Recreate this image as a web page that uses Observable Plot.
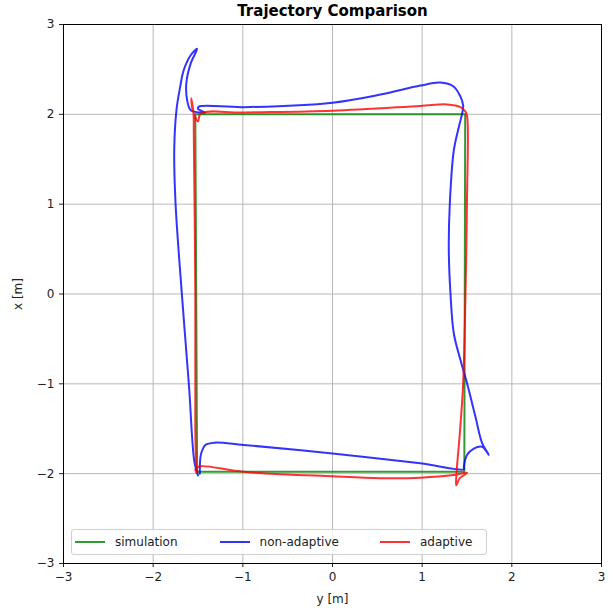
<!DOCTYPE html>
<html>
<head>
<meta charset="utf-8">
<script src="https://cdn.jsdelivr.net/npm/d3@7"></script>
<script src="https://cdn.jsdelivr.net/npm/@observablehq/plot@0.6"></script>
<style>
  body { margin: 0; background: #fff; font-family: "DejaVu Sans", sans-serif; }
  #wrap { position: relative; width: 613px; height: 608px; }
  #legend { position: absolute; left: 71px; top: 529px; width: 416px; height: 26px;
    border: 1px solid #d0d0d0; border-radius: 3px; background: rgba(255,255,255,0.85);
    display: flex; align-items: center; font-size: 12px; color: #222; box-sizing: border-box; }
  .item { display: flex; align-items: center; margin-left: 4px; }
  .sw { width: 30px; height: 0; border-top: 2px solid; margin-right: 10px; }
</style>
</head>
<body>
<div id="wrap"><div id="legend"></div></div>
<script>
const titleText = "Trajectory Comparison";
const xLabel = "y [m]";
const yLabel = "x [m]";
const ticks = [-3, -2, -1, 0, 1, 2, 3];
const seriesNames = ["simulation", "non-adaptive", "adaptive"];
const seriesColors = ["#008000", "#0000ff", "#ff0000"];

// horizontal = y [m], vertical = x [m]
const simY = [-1.51, -1.53, 1.48, 1.47, -1.51];
const simX = [-1.98, 2.0, 2.0, -1.98, -1.98];

const nonAdaptiveY = [-1.50, -1.54, -1.60, -1.68, -1.75, -1.765, -1.74, -1.70, -1.66, -1.58, -1.51,
  -1.58, -1.63, -1.62, -1.585, -1.545, -1.42, -1.50, -1.49,
  -0.99, 0.0, 0.535, 0.98, 1.20, 1.35, 1.427, 1.457, 1.446, 1.409, 1.353, 1.308, 1.297, 1.316,
  1.353, 1.427, 1.502, 1.595, 1.669, 1.743, 1.669, 1.576, 1.502, 1.465, 1.465,
  0.98, 0.0, -0.99, -1.32, -1.416, -1.453, -1.472, -1.48];
const nonAdaptiveX = [-2.02, -1.87, -1.03, 0.0, 1.0, 1.60, 2.05, 2.30, 2.49, 2.66, 2.73,
  2.57, 2.35, 2.15, 2.05, 2.03, 2.02, 2.06, 2.085,
  2.08, 2.13, 2.22, 2.32, 2.353, 2.31, 2.197, 2.10, 2.01, 1.86, 1.60, 1.0, 0.49, 0.0,
  -0.44, -0.735, -1.0, -1.37, -1.66, -1.79, -1.70, -1.72, -1.79, -1.92, -1.95,
  -1.885, -1.775, -1.68, -1.655, -1.68, -1.74, -1.81, -2.0];

const adaptiveY = [-1.52, -1.53, -1.53, -1.547, -1.55, -1.575, -1.56, -1.50, -1.47,
  -0.99, 0.0, 0.98, 1.28, 1.427, 1.483, 1.502, 1.50, 1.483, 1.457, 1.42, 1.383, 1.38, 1.42, 1.50,
  1.353, 0.98, 0.535, 0.0, -0.99, -1.49, -1.53];
const adaptiveX = [-1.99, -1.5, 0.0, 1.79, 2.01, 2.18, 2.05, 1.92, 2.01,
  2.02, 2.04, 2.094, 2.11, 2.08, 2.03, 1.975, 1.05, 0.0, -1.0, -1.55, -2.0, -2.13, -2.05, -1.99,
  -2.016, -2.045, -2.05, -2.03, -1.98, -1.92, -1.96];

const toRows = (ys, xs) => ys.map((v, i) => ({h: v, v: xs[i]}));
const sim = toRows(simY, simX);
const nonAd = toRows(nonAdaptiveY, nonAdaptiveX);
const ad = toRows(adaptiveY, adaptiveX);
const fmt = d => (d < 0 ? "\u2212" + Math.abs(d) : String(d));

const chart = Plot.plot({
  width: 613,
  height: 608,
  marginLeft: 63,
  marginRight: 12,
  marginTop: 24,
  marginBottom: 45,
  style: {fontFamily: "DejaVu Sans, sans-serif", fontSize: "12px", color: "#222", background: "#fff"},
  x: {domain: [-3, 3], ticks: ticks, tickFormat: fmt, tickSize: 4, label: xLabel, labelAnchor: "center", labelOffset: 39, labelArrow: "none"},
  y: {domain: [-3, 3], ticks: ticks, tickFormat: fmt, tickSize: 4, label: yLabel, labelAnchor: "center", labelOffset: 50, labelArrow: "none"},
  marks: [
    Plot.gridX(ticks, {stroke: "#b0b0b0", strokeOpacity: 1, strokeWidth: 0.9}),
    Plot.gridY(ticks, {stroke: "#b0b0b0", strokeOpacity: 1, strokeWidth: 0.9}),
    Plot.line(sim, {x: "h", y: "v", stroke: seriesColors[0], strokeWidth: 2, strokeOpacity: 0.8}),
    Plot.line(nonAd, {x: "h", y: "v", stroke: seriesColors[1], strokeWidth: 2, strokeOpacity: 0.8, curve: "catmull-rom"}),
    Plot.line(ad, {x: "h", y: "v", stroke: seriesColors[2], strokeWidth: 2, strokeOpacity: 0.8, curve: "catmull-rom"}),
    Plot.frame({stroke: "#000", strokeWidth: 1}),
    Plot.text([titleText], {frameAnchor: "top", lineAnchor: "middle", dy: -13, fontWeight: "bold", fontSize: 15, fill: "#000"})
  ]
});
document.getElementById("wrap").prepend(chart);

const legend = document.getElementById("legend");
const gaps = [0, 42, 41];
seriesNames.forEach((name, i) => {
  const item = document.createElement("div");
  item.className = "item";
  item.style.marginLeft = (i === 0 ? 3 : gaps[i]) + "px";
  const sw = document.createElement("div");
  sw.className = "sw";
  sw.style.borderTopColor = seriesColors[i];
  sw.style.opacity = 0.8;
  const t = document.createElement("span");
  t.textContent = name;
  item.appendChild(sw);
  item.appendChild(t);
  legend.appendChild(item);
});
</script>
</body>
</html>
